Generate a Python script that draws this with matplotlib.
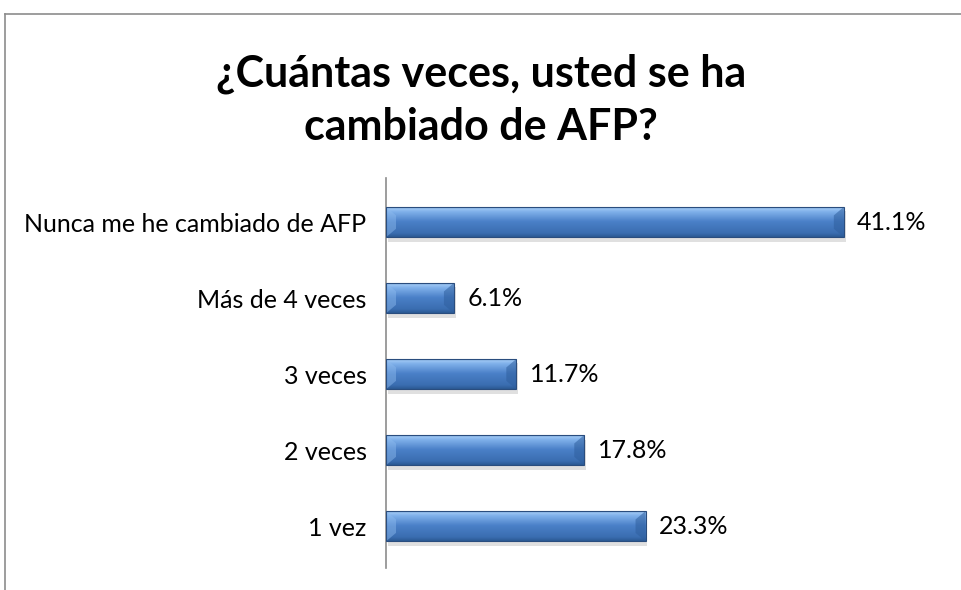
import numpy as np
import matplotlib.pyplot as plt
from matplotlib.patches import Rectangle, Polygon
from matplotlib.lines import Line2D
from matplotlib.colors import LinearSegmentedColormap

# datos
categorias = ['Nunca me he cambiado de AFP', 'Más de 4 veces', '3 veces', '2 veces', '1 vez']
valores = [41.1, 6.1, 11.7, 17.8, 23.3]
etiquetas = ['41.1%', '6.1%', '11.7%', '17.8%', '23.3%']
titulo = '¿Cuántas veces, usted se ha\ncambiado de AFP?'

plt.rcParams['font.family'] = ['Lato', 'DejaVu Sans']

W, H = 961, 590
fig = plt.figure(figsize=(W / 100, H / 100), dpi=100)
fig.patch.set_facecolor('white')

# marco del grafico (recortado a la derecha y abajo)
fig.add_artist(Line2D([5 / W, 5 / W], [0, 1 - 14 / H], color='#8c8c8c', lw=1.2))
fig.add_artist(Line2D([5 / W, 1], [1 - 14 / H, 1 - 14 / H], color='#8c8c8c', lw=1.2))

fig.text(481 / W, 1 - 100 / H, titulo, ha='center', va='center', fontsize=31,
         fontweight='bold', linespacing=1.38, color='black')

ax = fig.add_axes([386 / W, 1 - 568 / H, 557 / W, 390 / H])
ax.set_xlim(0, 50)
ax.set_ylim(4.55, -0.58)
for s in ['top', 'right', 'bottom']:
    ax.spines[s].set_visible(False)
ax.spines['left'].set_color('#8c8c8c')
ax.spines['left'].set_linewidth(1.2)
ax.set_xticks([])
ax.set_yticks(range(len(categorias)))
ax.set_yticklabels(categorias, fontsize=18)
ax.tick_params(axis='y', length=0, pad=14)

cmap = LinearSegmentedColormap.from_list('bisel', [
    (0.0, '#2c5a94'), (0.12, '#3a6db0'), (0.5, '#4a80c8'),
    (0.82, '#7fb0ea'), (0.92, '#9cc6f3'), (1.0, '#3f72b5')])
grad = np.linspace(0, 1, 100).reshape(-1, 1)

alto = 0.4
bars = ax.barh(range(len(categorias)), valores, height=alto, color='none',
               edgecolor='#2a4d7e', linewidth=0.8, zorder=3)
for i, (b, v) in enumerate(zip(bars, valores)):
    # sombra
    ax.add_patch(Rectangle((0.15, i - alto / 2 + 0.06), v, alto, color='#000000',
                           alpha=0.12, lw=0, zorder=1))
    im = ax.imshow(grad, cmap=cmap, aspect='auto', origin='lower',
                   extent=[0, v, i + alto / 2, i - alto / 2], zorder=2)
    im.set_clip_path(b)
    # biseles laterales
    d = 0.9
    dy = alto * 0.28
    ax.add_patch(Polygon([[v, i - alto / 2], [v - d, i - alto / 2 + dy],
                          [v - d, i + alto / 2 - dy], [v, i + alto / 2]],
                         closed=True, color='#2f5f9e', alpha=0.55, lw=0, zorder=2.5))
    ax.add_patch(Polygon([[0, i - alto / 2], [d, i - alto / 2 + dy],
                          [d, i + alto / 2 - dy], [0, i + alto / 2]],
                         closed=True, color='#8fbcef', alpha=0.45, lw=0, zorder=2.5))
    ax.text(v + 1.2, i, etiquetas[i], va='center', ha='left', fontsize=18)

fig.savefig('out.png', dpi=100)
